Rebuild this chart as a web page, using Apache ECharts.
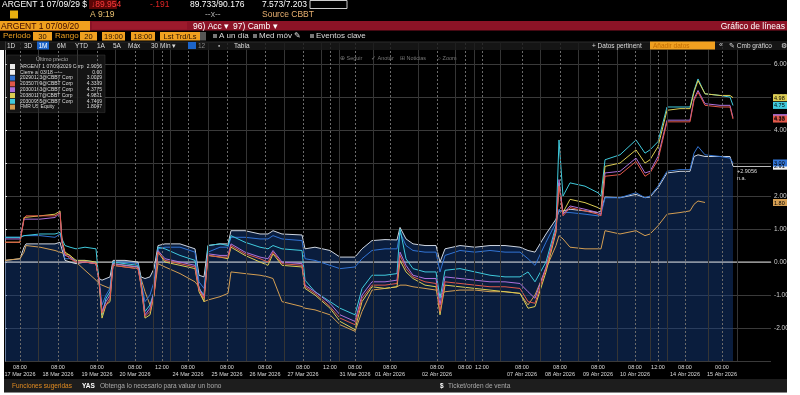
<!DOCTYPE html>
<html><head><meta charset="utf-8">
<script src="https://cdn.jsdelivr.net/npm/echarts@6/dist/echarts.min.js"></script>
<style>html,body{margin:0;padding:0;background:#000}#c{width:800px;height:395px}</style>
</head><body><div id="c"></div>
<script>
// ---------- DATA (trading-time units along x) ----------
const tArr = [0,7.5,9.5,10.5,17.5,25,27.5,28.5,30,32.5,35.5,40,45.5,47,48.5,50.5,52.5,54,60,66.5,68,70,72.5,74.5,76.5,80,87.5,95,97,99.5,101.5,107.5,111.5,113,120,127.5,131.5,134,138.5,148.5,150,155,162.5,167.5,175,178.5,183.5,190,196,197.5,200.5,204,210,215.5,217.5,220,227.5,235,242.5,250,257.5,261.5,265,270.5,275.5,277,279,282.5,290,296.5,298,300,307.5,315.5,320,322.5,326.5,331,337.5,342.5,344.5,346.5,350,357.5,362.5,364];

const argent = [0.05,0.1,0.45,0.55,0.55,0.55,0.6,0.55,0.05,0.0,
 -0.05,0.0,-0.05,-0.5,-0.55,-0.5,-0.45,0.05,0.05,0.0,
 -0.45,-0.5,-0.45,-0.2,0.5,0.55,0.55,0.4,-0.4,-0.45,
 0.5,0.55,0.55,0.95,0.95,0.85,0.85,0.95,0.85,0.82,
 0.4,0.45,0.35,0.15,0.15,0.4,0.65,0.68,0.67,1.05,
 0.7,0.55,0.5,0.5,0.0,0.4,0.5,0.45,0.5,0.5,
 0.45,0.35,0.3,0.85,1.3,1.55,1.55,1.6,1.55,1.5,
 1.55,1.97,1.95,2.05,1.95,1.97,2.25,2.7,2.75,2.75,
 3.2,3.25,3.2,3.2,3.2,2.9056];

const bond2029 = [0.75,0.75,0.8,0.85,0.8,0.75,0.85,0.6,0.1,0.1,
 0.05,0.05,0.0,-0.5,-1.3,-1.0,-0.8,0.0,0.0,-0.05,
 -0.6,-1.2,-1.0,-0.6,0.4,0.45,0.45,0.3,-0.6,-0.8,
 0.3,0.45,0.45,0.75,0.75,0.7,0.7,0.8,0.7,0.65,
 0.1,0.05,-0.1,-0.2,-0.15,0.1,0.35,0.4,0.4,0.9,
 0.5,0.35,0.3,0.3,-0.3,0.2,0.35,0.3,0.35,0.3,
 0.3,0.1,-0.1,0.6,1.2,1.6,1.5,1.5,1.45,1.4,
 1.45,1.95,1.95,2.1,1.95,2.0,2.3,2.75,2.8,2.8,
 3.3,3.5,3.25,3.2,3.15,3.0029];

const bond2035 = [0.6,0.6,1.3,1.4,1.4,1.4,1.5,0.6,0.25,0.1,
 0.0,0.0,-0.05,-0.55,-1.55,-1.3,-1.1,-0.1,-0.15,-0.2,
 -0.7,-1.65,-1.5,-1.0,0.3,0.05,-0.05,-0.15,-0.85,-1.1,
 0.2,0.15,0.15,0.5,0.25,0.1,0.0,0.3,-0.05,-0.1,
 -0.75,-0.95,-1.35,-1.7,-1.9,-1.1,-0.7,-0.7,-0.65,0.2,
 -0.2,-0.45,-0.6,-0.65,-1.5,-0.6,-0.65,-0.7,-0.75,-0.75,
 -0.8,-1.2,-1.25,-0.2,0.95,2.3,1.4,1.65,1.55,1.45,
 1.4,2.6,2.65,3.05,2.6,2.7,3.1,4.25,4.25,4.25,
 4.9,5.15,4.75,4.7,4.7,4.3339];

const bond2030 = [0.7,0.7,1.3,1.35,1.3,1.35,1.5,0.6,0.2,0.15,
 0.0,0.0,-0.05,-0.55,-1.5,-1.2,-1.0,-0.05,-0.1,-0.15,
 -0.65,-1.6,-1.4,-0.9,0.35,0.1,0.0,-0.1,-0.8,-1.05,
 0.25,0.2,0.2,0.55,0.3,0.15,0.1,0.35,0.0,-0.05,
 -0.7,-0.9,-1.25,-1.6,-1.8,-1.0,-0.6,-0.6,-0.55,0.3,
 -0.1,-0.4,-0.5,-0.5,-1.3,-0.45,-0.5,-0.55,-0.6,-0.6,
 -0.65,-0.9,-1.1,-0.15,1.0,2.5,1.45,1.7,1.6,1.5,
 1.45,2.7,2.75,3.15,2.7,2.75,3.2,4.3,4.3,4.3,
 4.95,5.2,4.8,4.75,4.75,4.3775];

const bond2038 = [0.6,0.6,1.35,1.4,1.4,1.45,1.55,0.65,0.3,0.2,
 0.05,0.05,0.0,-0.6,-1.7,-1.3,-1.2,-0.05,-0.1,-0.15,
 -0.7,-1.7,-1.6,-1.0,0.3,0.0,-0.1,-0.2,-0.9,-1.2,
 0.2,0.15,0.1,0.45,0.2,0.0,-0.1,0.25,-0.1,-0.15,
 -0.8,-1.0,-1.4,-1.8,-2.05,-1.2,-0.75,-0.8,-0.75,0.05,
 -0.3,-0.5,-0.7,-0.75,-1.6,-0.7,-0.75,-0.8,-0.85,-0.9,
 -0.95,-1.4,-1.35,-0.3,0.9,2.4,1.5,1.9,1.8,1.65,
 1.6,2.9,3.0,3.4,3.0,3.1,3.5,4.6,4.65,4.65,
 5.15,5.5,5.1,5.05,5.05,4.9821];

const bond2030b = [0.75,0.75,0.8,0.85,0.85,0.85,0.9,0.7,0.5,0.45,
 0.4,0.45,0.4,-0.6,-1.6,-1.1,-0.9,0.0,-0.05,-0.1,
 -0.6,-1.5,-1.3,-0.9,0.45,0.4,0.2,0.05,-0.8,-1.0,
 0.5,0.55,0.5,0.8,0.6,0.45,0.4,0.5,0.4,0.35,
 -0.55,-0.9,-1.2,-1.4,-1.6,-0.8,-0.4,-0.4,-0.35,1.0,
 0.1,-0.2,-0.3,-0.3,-1.1,-0.25,-0.2,-0.3,-0.4,-0.45,
 -0.45,-0.3,-0.6,0.0,1.1,3.7,2.0,2.4,2.3,2.1,
 2.0,3.1,3.25,3.7,3.3,3.4,3.65,4.7,4.7,4.7,
 5.2,5.55,5.1,5.05,5.0,4.7469];

const fmr = [0.05,0.1,0.3,0.5,0.45,0.35,0.3,0.3,0.25,0.2,
 0.0,-0.25,-0.55,-0.65,-0.7,-0.75,-0.8,-0.1,-0.15,-0.2,
 -0.5,-0.9,-1.3,-1.0,-0.05,-0.15,-0.35,-0.6,-0.75,-1.2,
 -1.15,-1.05,-0.95,-0.3,-0.35,-0.4,-0.45,-0.5,-1.2,-1.35,
 -1.4,-1.45,-1.6,-1.9,-2.1,-1.5,-0.85,-0.8,-0.75,-0.7,
 -0.7,-0.75,-0.8,-0.85,-1.0,-0.9,-0.85,-0.85,-0.9,-0.9,
 -0.95,-1.3,-1.0,-0.2,0.5,0.8,0.7,0.45,0.4,0.4,
 0.4,0.95,0.85,0.95,0.8,0.85,1.1,1.45,1.5,1.55,
 1.75,1.85,1.8047,null,null,null];

const cierreT = [0, 383];
const cierre = [0, 0];

const seriesNames = ['ARGENT 1 07/09/2029 Corp','Cierre al 03/18 -----','20290123@CBBT Corp','20350709@CBBT Corp','20300163@CBBT Corp','20380117@CBBT Corp','20300955@CBBT Corp','FMR US Equity'];
const legendValues = ['2.9056','0.00','3.0029','4.3339','4.3775','4.9821','4.7469','1.8047'];

const labelT = [7.5,26.5,46,65,78.5,91.5,111,130,149,162.5,175,192.5,216,230,238.5,258.5,277.5,296.5,315,326.5,340,358.5];
const labelTime = ['08:00','08:00','08:00','08:00','12:00','08:00','08:00','08:00','08:00','12:00','08:00','08:00','08:00','08:00','12:00','08:00','08:00','08:00','08:00','12:00','08:00','00:00'];
const labelDate = ['17 Mar 2026','18 Mar 2026','19 Mar 2026','20 Mar 2026','','24 Mar 2026','25 Mar 2026','26 Mar 2026','27 Mar 2026','','31 Mar 2026','01 Abr 2026','02 Abr 2026','','','07 Abr 2026','08 Abr 2026','09 Abr 2026','10 Abr 2026','','14 Abr 2026','15 Abr 2026'];
const sepT = [16.5,36,55,74,82.5,101.5,120.5,139.5,158,167,184,206.5,225,234.5,247.5,267.5,286.5,306,322.5,331,351.5,366];

// ---------- CHART ----------
const FONT = 'Liberation Sans, Arial, sans-serif';
const xMax = 383;
const COLORS = {arg:'#e8e8e8', cierre:'#f0f0f0', b29:'#3274d4', b35:'#e2584a', b30:'#ad72dc', b38:'#dccd52', b30b:'#40cadc', fmr:'#d49e52'};
const chart = echarts.init(document.getElementById('c'), null, {renderer:'canvas'});
const zip = arr => tArr.map((t,i)=>[t, arr[i]]);
const legendMap = {}; seriesNames.forEach((n,i)=>legendMap[n]=legendValues[i]);

function lineSeries(name, arr, color){
  return {name, type:'line', data:zip(arr), symbol:'none', showSymbol:false,
    lineStyle:{color, width:1}, itemStyle:{color}, emphasis:{disabled:true}};
}

const gridLines = labelT.map(t=>({xAxis:t, lineStyle:{type:[2,2], color:'#6a6a6a', width:1}}))
  .concat(sepT.map(t=>({xAxis:t, lineStyle:{type:'solid', color:'#353535', width:1}})));

function tx(x,y,text,fill,size,o){
  o=o||{};
  return {type:'text', x, y, z:100, silent:true, style:{text, fill, fontSize:size, fontFamily:FONT,
    fontWeight:o.bold?'bold':'normal', align:o.align||'left', verticalAlign:o.va||'top'}};
}
function rc(x,y,w,h,fill,stroke,z){
  return {type:'rect', z: z||99, silent:true, shape:{x,y,width:w,height:h},
    style:{fill: fill||'transparent', stroke: stroke||null, lineWidth: stroke?1:0}};
}

const graphics = [
  // row 1
  tx(2,0.5,'ARGENT 1 07/09/29 $','#fff',8.5),
  rc(89,0,28,9,'#5a0606'),
  tx(91,0.5,'↓89.954','#ff3b3b',8.5),
  tx(150,0.5,'-.191','#e02424',8.5),
  tx(190,0.5,'89.733/90.176','#fff',8.5),
  tx(262,0.5,'7.573/7.203','#fff',8.5),
  rc(310,0.5,37,8,null,'#cccccc'),
  // row 2
  rc(10,10.5,8,8,'#e8b010'),
  tx(90,10.5,'A 9:19','#e8c070',8.5),
  tx(205,10.5,'--x--','#aaa',8.5),
  tx(262,10.5,'Source CBBT','#e8b070',8.5),
  // row 3
  rc(0,21,787,9.5,'#8c1326'),
  rc(0,21,90,9.5,'#f0a01e'),
  rc(92,22,95,7.5,'#9c1a2c'),
  tx(1,22,'ARGENT 1 07/09/20','#3a0800',8.5),
  tx(193,22,'96) Acc ▾','#fff',8.5),
  tx(233,22,'97) Camb ▾','#fff',8.5),
  tx(785,22,'Gráfico de líneas','#fff',8.5,{align:'right'}),
  // row 4
  tx(3,32,'Periodo','#f0a020',8),
  rc(33,32,19,8.5,'#f0a020'), tx(42.5,32.5,'30','#2a1200',7.5,{align:'center'}),
  tx(55,32,'Rango','#f0a020',8),
  rc(80,32,17,8.5,'#f0a020'), tx(88.5,32.5,'20','#2a1200',7.5,{align:'center'}),
  rc(102,32,23,8.5,'#f0a020'), tx(113.5,32.5,'19:00','#2a1200',7.5,{align:'center'}),
  rc(131,32,24,8.5,'#f0a020'), tx(143,32.5,'18:00','#2a1200',7.5,{align:'center'}),
  rc(160,32,40,8.5,'#f0a020'), tx(180,32.5,'Lst Trd/Ls','#2a1200',7.5,{align:'center'}),
  rc(200,32,6,8.5,'#555'),
  rc(213,34,4,4,'#777'), tx(219,32,'A un día','#ddd',8),
  rc(253,34,4,4,'#777'), tx(259,32,'Med móv ✎','#ddd',8),
  rc(310,34,4,4,'#777'), tx(316,32,'Eventos clave','#ddd',8),
  // row 5 (over plot)
  rc(0,41,787,9,'rgba(26,26,26,0.8)'),
  tx(7,42.5,'1D','#ddd',6.5), tx(24,42.5,'3D','#ddd',6.5),
  rc(37,41.5,12,8,'#1d64c8'), tx(43,42.5,'1M','#fff',6.5,{align:'center'}),
  tx(57,42.5,'6M','#ddd',6.5), tx(75,42.5,'YTD','#ddd',6.5), tx(97,42.5,'1A','#ddd',6.5),
  tx(113,42.5,'5A','#ddd',6.5), tx(128,42.5,'Máx','#ddd',6.5), tx(151,42.5,'30 Min ▾','#ddd',6.5),
  rc(188,42,8,7,'#1d64c8'), tx(198,42.5,'12','#888',6.5), tx(218,42.5,'▪','#aaa',6.5),
  tx(234,42.5,'Tabla','#ddd',6.5),
  tx(592,42.5,'+ Datos pertinent','#ddd',6.5),
  rc(650,41.5,65,8,'#f0a020'), tx(653,42.5,'Añadir datos','#c26c00',6.5),
  tx(719,42,'«','#ccc',7), tx(729,42.5,'✎ Cmb gráfico','#ddd',6.5), tx(781,42.5,'⚙','#ddd',6.5),
  // plot toolbar
  tx(340,55,'⊕ Seguir','#777',5.5), tx(371,55,'✓ Anotar','#777',5.5),
  tx(400,55,'⊞ Noticias','#777',5.5), tx(438,55,'⌕ Zoom','#777',5.5),
  // legend title
  tx(52,56,'Último precio','#aaa',5.5,{align:'center'}),
  // bottom bar
  rc(4,379,783,13.5,'#1d1d1d'),
  tx(12,382.5,'Funciones sugeridas','#e08a20',6.5),
  tx(82,382.5,'YAS','#fff',6.5,{bold:true}),
  tx(100,382.5,'Obtenga lo necesario para valuar un bono','#aaa',6.5),
  tx(440,382.5,'$','#fff',6.5,{bold:true}),
  tx(448,382.5,'Ticket/orden de venta','#aaa',6.5),
  // white frame
  rc(787,0,13,395,'#fff',null,200),
  rc(0,392.5,800,3,'#fff',null,200),
  rc(0,50,4,345,'#fff',null,200)
];

const lastArg = argent[argent.length-1];
const option = {
  animation:false,
  backgroundColor:'#000',
  textStyle:{fontFamily:FONT},
  grid:{left:5, right:29, top:42, bottom:34, containLabel:false},
  legend:{orient:'vertical', left:7, top:55, padding:[9,3,3,3], itemWidth:5, itemHeight:5, itemGap:0.8,
    icon:'rect', selectedMode:false, backgroundColor:'rgba(22,22,22,0.92)', borderColor:'#3a3a3a', borderWidth:0.5,
    textStyle:{color:'#ddd', fontSize:5, fontFamily:FONT,
      rich:{n:{width:64, fontSize:5, color:'#ddd', lineHeight:6}, v:{width:18, align:'right', fontSize:5, color:'#ddd', lineHeight:6}}},
    formatter: name => '{n|'+name+'}{v|'+legendMap[name]+'}',
    data: seriesNames},
  xAxis:{type:'value', min:0, max:xMax,
    axisLine:{show:true, lineStyle:{color:'#444'}},
    axisTick:{show:true, customValues:sepT, length:17, inside:false, lineStyle:{color:'#6a6a6a'}},
    axisLabel:{customValues:labelT, color:'#dcdcdc', fontSize:5.5, lineHeight:7, margin:3, fontFamily:FONT,
      formatter: v => { const i = labelT.findIndex(t=>Math.abs(t-v)<0.01); return i<0?'':(labelDate[i]?labelTime[i]+'\n'+labelDate[i]:labelTime[i]); }},
    splitLine:{show:false}},
  yAxis:{type:'value', position:'right', min:-3, max:6.67, interval:1,
    axisLine:{show:true, lineStyle:{color:'#aaa'}},
    axisTick:{show:true, length:2, lineStyle:{color:'#ddd'}},
    axisLabel:{color:'#cfcfcf', fontSize:6.5, margin:3, fontFamily:FONT, showMinLabel:false, showMaxLabel:false,
      formatter: v => v.toFixed(2)},
    splitLine:{show:true, lineStyle:{color:'#3a3a3a', width:1}}},
  graphic: graphics,
  series:[
    {name:seriesNames[0], type:'line', data:zip(argent), symbol:'none', showSymbol:false,
     lineStyle:{color:'#cfd6e0', width:1}, itemStyle:{color:COLORS.arg},
     areaStyle:{color:'rgba(24,66,140,0.62)', origin:'start'}, emphasis:{disabled:true},
     markLine:{silent:true, symbol:'none', animation:false, label:{show:false},
       data: gridLines.concat([
         [{coord:[tArr[tArr.length-1], lastArg], lineStyle:{color:'#bbb', width:1, type:'solid'}},{coord:[xMax, lastArg]}]
       ])}},
    {name:seriesNames[1], type:'line', data:cierreT.map((t,i)=>[t,cierre[i]]), symbol:'none', showSymbol:false,
     lineStyle:{color:'#d8d8d8', width:1}, itemStyle:{color:COLORS.cierre}, emphasis:{disabled:true}},
    lineSeries(seriesNames[7], fmr, COLORS.fmr),
    lineSeries(seriesNames[2], bond2029, COLORS.b29),
    lineSeries(seriesNames[6], bond2030b, COLORS.b30b),
    lineSeries(seriesNames[5], bond2038, COLORS.b38),
    lineSeries(seriesNames[4], bond2030, COLORS.b30),
    lineSeries(seriesNames[3], bond2035, COLORS.b35)
  ]
};
chart.setOption(option);

// right-side last-value tags, placed through the chart's own y scale
const lastOf = a => a.filter(v=>v!==null).slice(-1)[0];
const tagList = [
  [lastOf(fmr), COLORS.fmr], [lastArg, '#f2f2f2'], [lastOf(bond2029), COLORS.b29],
  [lastOf(bond2030), COLORS.b30], [lastOf(bond2035), COLORS.b35],
  [lastOf(bond2038), COLORS.b38], [lastOf(bond2030b), COLORS.b30b]
];
const tags = [];
tagList.forEach(([v,c])=>{
  const p = chart.convertToPixel({gridIndex:0}, [xMax, v]);
  tags.push(rc(p[0]+2, p[1]-3.5, 14, 7, c, null, 150));
  tags.push(Object.assign(tx(p[0]+3, p[1]+0.5, v.toFixed(2), '#000', 5.5, {va:'middle'}), {z:151}));
});
const pe = chart.convertToPixel({gridIndex:0}, [tArr[tArr.length-1], lastArg]);
tags.push(tx(pe[0]+4, pe[1]+2, '+2.9056', '#ddd', 5.5));
tags.push(tx(pe[0]+4, pe[1]+9, 'n.a.', '#ddd', 5.5));
chart.setOption({graphic: graphics.concat(tags)});
</script></body></html>
